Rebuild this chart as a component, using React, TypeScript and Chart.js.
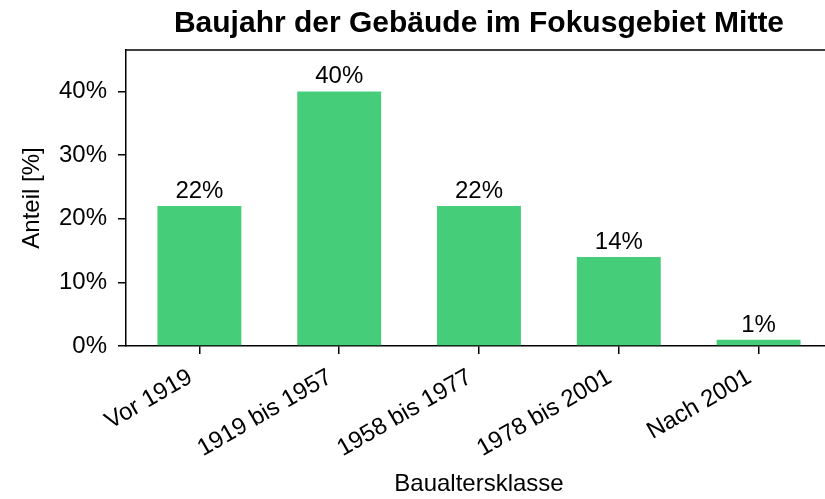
import React, { useEffect, useRef } from "react";
import { Chart, registerables } from "chart.js";

Chart.register(...registerables);

const categories: string[] = ["Vor 1919", "1919 bis 1957", "1958 bis 1977", "1978 bis 2001", "Nach 2001"];
const shares: number[] = [22, 40, 22, 14, 1];
const yTicks: number[] = [0, 10, 20, 30, 40];
const titleText = "Baujahr der Gebäude im Fokusgebiet Mitte";
const xTitle = "Baualtersklasse";
const yTitle = "Anteil [%]";

const FONT = "'Liberation Sans', Arial, sans-serif";
const BAR = "#45CD7A";
const AXIS = "#000000";

const framePlugin = {
  id: "frame",
  afterDraw(chart: any) {
    const { ctx, chartArea } = chart;
    ctx.save();
    ctx.strokeStyle = AXIS;
    ctx.lineWidth = 1.5;
    ctx.beginPath();
    ctx.moveTo(chartArea.left, chartArea.top);
    ctx.lineTo(chartArea.right, chartArea.top);
    ctx.lineTo(chartArea.right, chartArea.bottom);
    ctx.stroke();
    ctx.restore();
  },
};

const valueLabelPlugin = {
  id: "valueLabels",
  afterDatasetsDraw(chart: any) {
    const { ctx } = chart;
    const meta = chart.getDatasetMeta(0);
    ctx.save();
    ctx.font = `24px ${FONT}`;
    ctx.fillStyle = "#000";
    ctx.textAlign = "center";
    ctx.textBaseline = "alphabetic";
    meta.data.forEach((bar: any, i: number) => {
      ctx.fillText(`${shares[i]}%`, bar.x, bar.y - 8);
    });
    ctx.restore();
  },
};

export default function App() {
  const ref = useRef<HTMLCanvasElement>(null);
  useEffect(() => {
    if (!ref.current) return;
    const chart = new Chart(ref.current, {
      type: "bar",
      data: {
        datasets: [
          {
            data: shares.map((v, i) => ({ x: i, y: v })),
            backgroundColor: BAR,
            borderWidth: 0,
            categoryPercentage: 1,
            barPercentage: 0.6,
          },
        ],
      },
      plugins: [framePlugin, valueLabelPlugin],
      options: {
        animation: false,
        responsive: false,
        devicePixelRatio: 1,
        layout: { padding: { left: 0, right: 13, top: 0, bottom: 0 } },
        plugins: {
          legend: { display: false },
          tooltip: { enabled: false },
          title: {
            display: true,
            text: titleText,
            fullSize: false,
            color: "#000",
            font: { family: FONT, size: 30, weight: "bold" },
            padding: { top: 6, bottom: 8 },
          },
        },
        scales: {
          x: {
            type: "linear",
            offset: false,
            min: -0.525,
            max: 4.525,
            afterBuildTicks: (s: any) => {
              s.ticks = categories.map((_, i) => ({ value: i }));
            },
            afterFit: (s: any) => {
              s.height = 153;
            },
            ticks: {
              minRotation: 30,
              maxRotation: 30,
              padding: 9,
              labelOffset: -9,
              color: "#000",
              font: { family: FONT, size: 24 },
              callback: (v: any) => categories[Math.round(Number(v))] ?? "",
            },
            grid: {
              offset: false,
              drawOnChartArea: false,
              drawTicks: true,
              tickLength: 8,
              color: AXIS,
              lineWidth: 1.5,
            },
            border: { display: true, color: AXIS, width: 1.5 },
            title: {
              display: true,
              text: xTitle,
              color: "#000",
              font: { family: FONT, size: 24 },
              padding: { top: 0, bottom: 0 },
            },
          },
          y: {
            min: 0,
            max: 46.5,
            afterBuildTicks: (s: any) => {
              s.ticks = yTicks.map((v) => ({ value: v }));
            },
            afterFit: (s: any) => {
              s.width = 126;
            },
            ticks: {
              padding: 11,
              color: "#000",
              font: { family: FONT, size: 24 },
              callback: (v: any) => `${v}%`,
            },
            grid: {
              drawOnChartArea: false,
              drawTicks: true,
              tickLength: 8,
              color: AXIS,
              lineWidth: 1.5,
            },
            border: { display: true, color: AXIS, width: 1.5 },
            title: {
              display: true,
              text: yTitle,
              color: "#000",
              font: { family: FONT, size: 24 },
              padding: { top: 18, bottom: 0 },
            },
          },
        },
      } as any,
    });
    return () => chart.destroy();
  }, []);
  return (
    <div
      style={{
        position: "fixed",
        left: 0,
        top: 0,
        width: 825,
        height: 499,
        overflow: "hidden",
        background: "#fff",
      }}
    >
      <canvas ref={ref} width={845} height={499} style={{ display: "block" }} />
    </div>
  );
}
